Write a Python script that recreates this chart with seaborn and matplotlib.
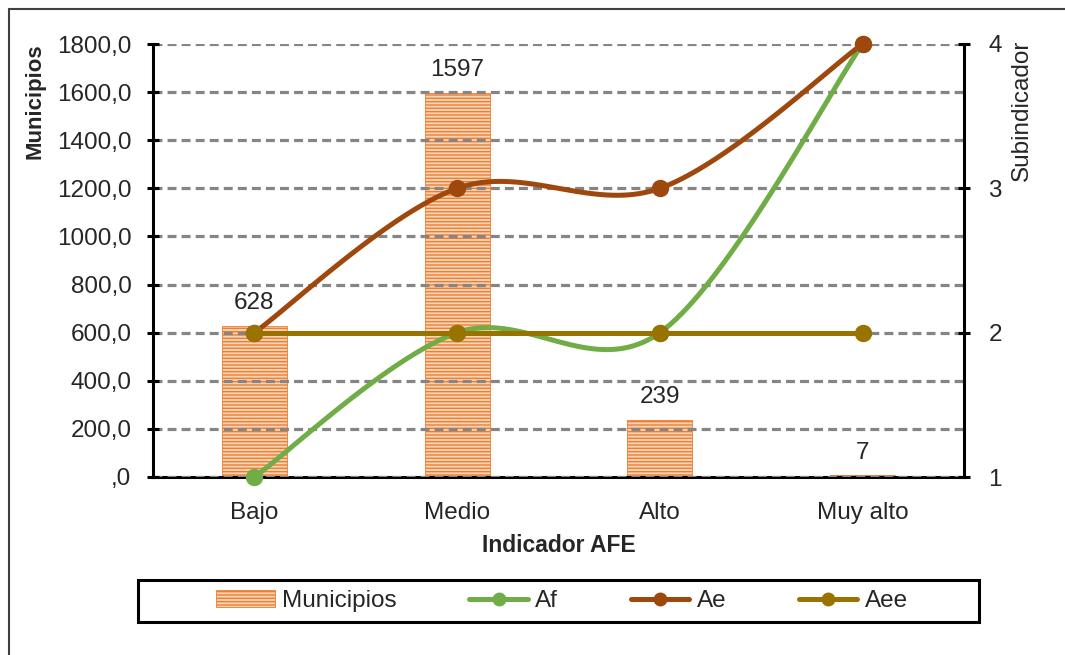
import numpy as np
import pandas as pd
import matplotlib
matplotlib.use("Agg")
import matplotlib.pyplot as plt
import seaborn as sns
from matplotlib.lines import Line2D
from matplotlib.patches import Rectangle, Patch

# --- Data ---
categories = ["Bajo", "Medio", "Alto", "Muy alto"]
municipios = [628, 1597, 239, 7]
af = [1, 2, 2, 4]
ae = [2, 3, 3, 4]
aee = [2, 2, 2, 2]
left_ticks = [0, 200, 400, 600, 800, 1000, 1200, 1400, 1600, 1800]
left_tick_labels = [",0", "200,0", "400,0", "600,0", "800,0", "1000,0",
                    "1200,0", "1400,0", "1600,0", "1800,0"]
right_ticks = [1, 2, 3, 4]

BAR_FACE = "#fbd3b5"
BAR_EDGE = "#ed7d31"
C_AF = "#70ad47"
C_AE = "#9e480e"
C_AEE = "#997300"
GRID = "#858585"

sns.set_style("white")
plt.rcParams["font.family"] = ["Liberation Sans", "DejaVu Sans"]
plt.rcParams["hatch.color"] = BAR_EDGE
plt.rcParams["hatch.linewidth"] = 1.0
FS = 17.5
FS_BOLD = 16


def smooth(xs, ys, n=40):
    # excel style smoothed line (bezier through the points)
    p = np.column_stack([xs, ys]).astype(float)
    p = np.vstack([p[0], p, p[-1]])
    out = []
    t = np.linspace(0, 1, n)[:, None]
    for i in range(1, len(p) - 2):
        p0, p1, p2, p3 = p[i - 1], p[i], p[i + 1], p[i + 2]
        c1 = p1 + (p2 - p0) / 6
        c2 = p2 - (p3 - p1) / 6
        seg = (1 - t) ** 3 * p1 + 3 * (1 - t) ** 2 * t * c1 + 3 * (1 - t) * t ** 2 * c2 + t ** 3 * p2
        out.append(seg if i == 1 else seg[1:])
    pts = np.vstack(out)
    return pts[:, 0], pts[:, 1]


fig = plt.figure(figsize=(10.65, 6.55), dpi=100)
ax = fig.add_axes([153 / 1065, 1 - 477 / 655, 811 / 1065, 433 / 655])

df = pd.DataFrame({"Indicador AFE": categories, "Municipios": municipios})
sns.barplot(data=df, x="Indicador AFE", y="Municipios", ax=ax, width=0.32,
            color=BAR_FACE, saturation=1, edgecolor=BAR_EDGE, linewidth=0.6,
            hatch="-----", errorbar=None)

ax.set_xlim(-0.5, 3.5)
ax.set_ylim(0, 1800)
ax.set_yticks(left_ticks)
ax.set_yticklabels(left_tick_labels, fontsize=FS)
ax.set_xticks(range(len(categories)))
ax.set_xticklabels(categories, fontsize=FS)
ax.set_xticks([-0.5, 0.5, 1.5, 2.5, 3.5], minor=True)
ax.tick_params(axis="x", which="major", length=0, pad=18)
ax.tick_params(axis="x", which="minor", direction="out", length=4, width=2.2, color="black")
ax.tick_params(axis="y", direction="inout", length=9, width=2.2, color="black", pad=11)

ax.set_axisbelow(False)
ax.yaxis.grid(True, color=GRID, linewidth=2.3, linestyle=(0, (2.8, 1.6)))
ax.xaxis.grid(False)
for s in ["top", "right"]:
    ax.spines[s].set_visible(False)
for s in ["left", "bottom"]:
    ax.spines[s].set_color("black")
    ax.spines[s].set_linewidth(2.2)

ax.set_xlabel("Indicador AFE", fontsize=FS_BOLD + 0.5, fontweight="bold", va="center")
ax.xaxis.set_label_coords(0.5, (477 - 545) / 433)
ax.set_ylabel("Municipios", fontsize=FS_BOLD, fontweight="bold", va="center", ha="center")
ax.yaxis.set_label_coords((35 - 153) / 811, (477 - 101) / 433)

for i, v in enumerate(municipios):
    ax.annotate(str(v), (i, v), xytext=(0, 8.5), textcoords="offset points",
                ha="center", va="bottom", fontsize=FS)

# --- secondary axis with the subindicators ---
ax2 = ax.twinx()
xpos = np.arange(len(categories))
for vals, col in [(af, C_AF), (ae, C_AE), (aee, C_AEE)]:
    sx, sy = smooth(xpos, vals)
    sns.lineplot(x=sx, y=sy, ax=ax2, color=col, linewidth=3.6, sort=False,
                 estimator=None, clip_on=False)
    ax2.plot(xpos, vals, "o", color=col, markersize=11.5, zorder=3, clip_on=False)

ax2.set_xlim(-0.5, 3.5)
ax2.set_ylim(1, 4)
ax2.set_yticks(right_ticks)
ax2.set_yticklabels([str(t) for t in right_ticks], fontsize=FS)
ax2.tick_params(axis="y", direction="inout", length=9, width=2.2, color="black", pad=13)
for s in ["top", "left", "bottom"]:
    ax2.spines[s].set_visible(False)
ax2.spines["right"].set_color("black")
ax2.spines["right"].set_linewidth(2.2)
ax2.set_ylabel("Subindicador", fontsize=FS, va="center", ha="center", rotation=90)
ax2.yaxis.set_label_coords((1022 - 153) / 811, (477 - 110) / 433)

# --- legend ---
handles = [
    Patch(facecolor=BAR_FACE, edgecolor=BAR_EDGE, hatch="-----", linewidth=0.6, label="Municipios"),
    Line2D([], [], color=C_AF, linewidth=3.6, marker="o", markersize=9, label="Af"),
    Line2D([], [], color=C_AE, linewidth=3.6, marker="o", markersize=9, label="Ae"),
    Line2D([], [], color=C_AEE, linewidth=3.6, marker="o", markersize=9, label="Aee"),
]
fig.legend(handles=handles, loc="center", bbox_to_anchor=(562 / 1065, 1 - 601 / 655),
           ncol=4, frameon=False, fontsize=FS, handlelength=2.4, handletextpad=0.3,
           columnspacing=3.0, numpoints=1)
fig.patches.append(Rectangle((138 / 1065, 1 - 622 / 655), 841 / 1065, 42 / 655,
                             transform=fig.transFigure, fill=False, edgecolor="black",
                             linewidth=2.2))

# outer chart frame (only left and top edges show)
fig.lines.append(Line2D([9 / 1065, 9 / 1065], [0, 1 - 9 / 655], transform=fig.transFigure,
                        color="#404040", linewidth=1.5))
fig.lines.append(Line2D([9 / 1065, 1], [1 - 9 / 655, 1 - 9 / 655], transform=fig.transFigure,
                        color="#404040", linewidth=1.5))

fig.savefig("out.png", dpi=100)
plt.close(fig)
